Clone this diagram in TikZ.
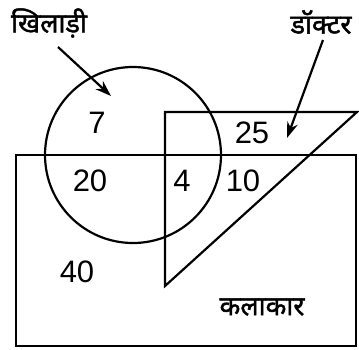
\documentclass[tikz,border=0pt]{standalone}
\usepackage{fontspec}
\setmainfont{Liberation Sans}
\newfontfamily\devfont[Script=Devanagari,FakeBold=1.6]{Noto Sans}
\usetikzlibrary{positioning,arrows.meta}
\tikzset{
  >=Stealth,
  % --- sets
  set/.style     = {line width=2.2pt, draw=black},
  % --- labels
  num/.style     = {font=\fontsize{31}{34}\selectfont, inner sep=0pt},
  setname/.style = {font=\devfont\fontsize{27}{30}\selectfont, inner sep=0pt},
  % --- arrows
  pointer/.style = {-{Stealth[length=16pt,width=11pt]}, line width=2.2pt},
}
\begin{document}
\begin{tikzpicture}[x=1pt, y=-1pt]
  \useasboundingbox (0,0) rectangle (359,349);
  % sets
  \draw[set] (133,155) circle[radius=88];
  \draw[set] (16,155) rectangle (356,346);
  \draw[set] (165,286) -- (165,112) -- (357,112) -- cycle;
  % regions
  \node[num] (n7)  at (97,123)  {7};
  \node[num] (n25) at (252,133) {25};
  \node[num] (n20) at (90,181)  {20};
  \node[num] (n4)  at (182,181) {4};
  \node[num] (n10) at (243,181) {10};
  \node[num] (n40) at (77,272)  {40};
  % set names
  \node[setname] (player) at (49,23)  {खिलाड़ी};
  \node[setname] (doctor) at (321,22) {डॉक्टर};
  \node[setname] (artist) at (262,307) {कलाकार};
  \coordinate (playertail) at (58,47);
  \coordinate (playertip) at (111,96);
  \coordinate (doctortail) at (323,40);
  \coordinate (doctortip) at (287,138);
  \draw[pointer] (playertail) -- (playertip);
  \draw[pointer] (doctortail) -- (doctortip);
\end{tikzpicture}
\end{document}
